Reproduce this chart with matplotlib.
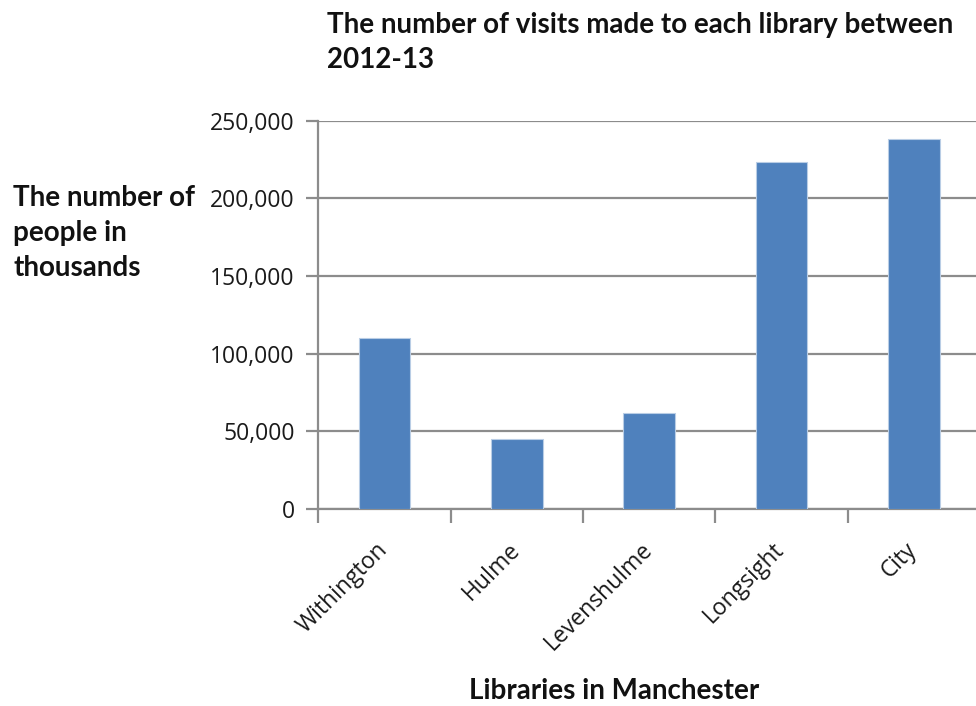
import matplotlib
matplotlib.use("Agg")
import matplotlib.pyplot as plt
from matplotlib.ticker import FuncFormatter
import matplotlib.transforms as mtransforms

categories = ["Withington", "Hulme", "Levenshulme", "Longsight", "City"]
visits = [110000, 45000, 61500, 223700, 237900]
yticks = [0, 50000, 100000, 150000, 200000, 250000]

W, H = 976, 706
fig = plt.figure(figsize=(W / 100, H / 100), dpi=100)
fig.patch.set_facecolor("white")

ax_left, ax_right = 318.3, 980.0
ax_top, ax_bottom = 120.7, 509.0
ax = fig.add_axes([ax_left / W, 1 - ax_bottom / H, (ax_right - ax_left) / W, (ax_bottom - ax_top) / H])

x = list(range(len(categories)))
ax.bar(x, visits, width=0.39, color="#4F81BD", edgecolor="#B9CDE5", linewidth=0.8, zorder=3)

ax.set_xlim(-0.5, len(categories) - 0.5)
ax.set_ylim(0, 250000)
ax.set_yticks(yticks)
ax.yaxis.set_major_formatter(FuncFormatter(lambda v, p: f"{int(v):,}"))

grid_col = "#8C8C8C"
ax.yaxis.grid(True, color=grid_col, linewidth=1.6, zorder=1)
ax.set_axisbelow(True)
for s in ["top", "right"]:
    ax.spines[s].set_visible(False)
for s in ["left", "bottom"]:
    ax.spines[s].set_color(grid_col)
    ax.spines[s].set_linewidth(1.6)

# category boundary ticks on x axis
ax.set_xticks([i - 0.5 for i in range(len(categories) + 1)])
ax.set_xticklabels([])
ax.tick_params(axis="x", length=10, width=1.6, color=grid_col, direction="out")
ax.tick_params(axis="y", length=9, width=1.6, color=grid_col, direction="out",
               labelsize=16.5, labelcolor="#1a1a1a", pad=8)
for lab in ax.get_yticklabels():
    lab.set_family("Open Sans")

# rotated category labels
offset = mtransforms.ScaledTranslation(-9 / 100, -29 / 100, fig.dpi_scale_trans)
for i, c in enumerate(categories):
    ax.text(i, 0, c, rotation=45, ha="right", va="top", rotation_mode="anchor",
            fontsize=16.5, family="Open Sans", color="#1a1a1a",
            transform=ax.get_xaxis_transform() + offset)

# Titles
fig.text(327 / W, 1 - 12 / H, "The number of visits made to each library between\n2012-13",
         ha="left", va="top", fontsize=20, fontweight="bold", family="Lato",
         color="#111111", linespacing=1.42)
fig.text(13 / W, 1 - 185 / H, "The number of\npeople in\nthousands",
         ha="left", va="top", fontsize=20, fontweight="bold", family="Lato",
         color="#111111", linespacing=1.44)
fig.text(614 / W, 1 - 691 / H, "Libraries in Manchester", ha="center", va="center",
         fontsize=20, fontweight="bold", family="Lato", color="#111111")

fig.savefig("out.png", dpi=100, facecolor="white")
